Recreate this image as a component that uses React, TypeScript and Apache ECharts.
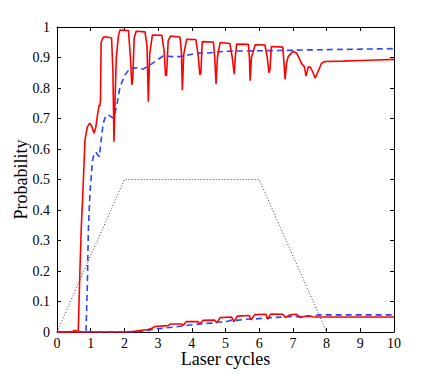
import React, { useEffect, useRef } from "react";
import * as echarts from "echarts";

const xTicks = [0, 1, 2, 3, 4, 5, 6, 7, 8, 9, 10];
const yTicks = [0, 0.1, 0.2, 0.3, 0.4, 0.5, 0.6, 0.7, 0.8, 0.9, 1];

const redHigh: [number, number][] = [
  [0, 0], [0.45, 0], [0.5, 0.005], [0.56, 0.005], [0.6, 0], [0.63, 0], [0.68, 0.2], [0.72, 0.34],
  [0.78, 0.49], [0.83, 0.63], [0.9, 0.672], [0.97, 0.685], [1.03, 0.675], [1.1, 0.652], [1.15, 0.67],
  [1.2, 0.71], [1.25, 0.745], [1.27, 0.74], [1.29, 0.76], [1.31, 0.95], [1.37, 0.966], [1.45, 0.968],
  [1.62, 0.964], [1.66, 0.85], [1.69, 0.624], [1.72, 0.75], [1.76, 0.9], [1.82, 0.97], [1.87, 0.99],
  [2.12, 0.988], [2.18, 0.9], [2.22, 0.81], [2.25, 0.83], [2.29, 0.965], [2.35, 0.986], [2.61, 0.984],
  [2.67, 0.94], [2.71, 0.755], [2.75, 0.91], [2.83, 0.974], [3.11, 0.973], [3.18, 0.92], [3.22, 0.84],
  [3.25, 0.842], [3.3, 0.955], [3.37, 0.97], [3.65, 0.967], [3.69, 0.92], [3.72, 0.793], [3.76, 0.91],
  [3.85, 0.96], [4.12, 0.959], [4.19, 0.905], [4.24, 0.843], [4.27, 0.85], [4.31, 0.952], [4.64, 0.951],
  [4.68, 0.9], [4.72, 0.813], [4.76, 0.9], [4.84, 0.949], [5.13, 0.946], [5.2, 0.9], [5.26, 0.845],
  [5.29, 0.9], [5.33, 0.944], [5.68, 0.943], [5.71, 0.9], [5.73, 0.824], [5.77, 0.9], [5.88, 0.942],
  [6.17, 0.941], [6.24, 0.9], [6.29, 0.85], [6.32, 0.86], [6.36, 0.936], [6.7, 0.934], [6.73, 0.89],
  [6.77, 0.828], [6.81, 0.88], [6.86, 0.903], [7.01, 0.921], [7.11, 0.914], [7.21, 0.892], [7.26, 0.88],
  [7.34, 0.87], [7.39, 0.839], [7.46, 0.87], [7.52, 0.868], [7.6, 0.85], [7.66, 0.832], [7.75, 0.855],
  [7.85, 0.881], [7.95, 0.887], [8.5, 0.888], [9, 0.89], [9.5, 0.892], [10, 0.894],
];

const blueHigh: [number, number][] = [
  [0, 0], [0.86, 0], [0.9, 0.15], [0.93, 0.334], [0.98, 0.46], [1.01, 0.5], [1.05, 0.56], [1.09, 0.58],
  [1.15, 0.59], [1.2, 0.582], [1.26, 0.575], [1.3, 0.62], [1.37, 0.684], [1.45, 0.71], [1.55, 0.71],
  [1.65, 0.702], [1.7, 0.708], [1.77, 0.74], [1.87, 0.804], [2.02, 0.843], [2.17, 0.865], [2.37, 0.866],
  [2.56, 0.862], [2.81, 0.879], [3.0, 0.894], [3.15, 0.905], [3.45, 0.903], [3.65, 0.903], [3.85, 0.907],
  [4.05, 0.912], [4.25, 0.915], [4.5, 0.915], [4.74, 0.918], [4.94, 0.92], [5.24, 0.921], [6.0, 0.922],
  [6.6, 0.923], [7.5, 0.925], [8.8, 0.927], [10, 0.929],
];

const redLow: [number, number][] = [
  [0, 0], [2.05, 0], [2.3, 0.002], [2.46, 0.005], [2.7, 0.008], [2.82, 0.012], [2.9, 0.018], [3.3, 0.021],
  [3.36, 0.026], [3.7, 0.026], [3.75, 0.022], [3.83, 0.034], [4.18, 0.034], [4.24, 0.026], [4.33, 0.038],
  [4.68, 0.039], [4.74, 0.03], [4.84, 0.047], [5.18, 0.049], [5.25, 0.034], [5.35, 0.052], [5.7, 0.054],
  [5.76, 0.04], [5.87, 0.057], [6.2, 0.058], [6.26, 0.042], [6.34, 0.059], [6.7, 0.058], [6.77, 0.048],
  [6.91, 0.056], [7.11, 0.058], [7.21, 0.048], [7.3, 0.05], [7.46, 0.053], [7.58, 0.05], [7.7, 0.049],
  [8, 0.049], [10, 0.049],
];

const blueLow: [number, number][] = [
  [0, 0], [2.4, 0], [2.7, 0.005], [2.9, 0.01], [3.1, 0.012], [3.45, 0.016], [3.75, 0.02], [3.95, 0.023],
  [4.15, 0.025], [4.35, 0.028], [4.6, 0.029], [4.73, 0.033], [5.0, 0.033], [5.13, 0.038], [5.33, 0.038],
  [5.6, 0.042], [5.9, 0.043], [6.2, 0.046], [6.52, 0.048], [6.82, 0.05], [7.1, 0.05], [7.4, 0.051],
  [7.6, 0.052], [7.75, 0.056], [10, 0.056],
];

const laserEnvelope: [number, number][] = [[0, 0], [2, 0.5], [6, 0.5], [8, 0]];

const SERIF = "'Liberation Serif', 'Times New Roman', serif";

export default function App() {
  const ref = useRef<HTMLDivElement>(null);
  useEffect(() => {
    document.body.style.margin = "0";
    if (!ref.current) return;
    const chart = echarts.init(ref.current, undefined, { renderer: "svg" });
    const axisCommon = {
      type: "value" as const,
      axisLine: { show: true, onZero: false, lineStyle: { color: "#000", width: 1 } },
      axisTick: { show: true, inside: true, length: 4, lineStyle: { color: "#000", width: 1 } },
      splitLine: { show: false },
    };
    const label = { color: "#000", fontFamily: SERIF, fontSize: 14 };
    chart.setOption({
      animation: false,
      backgroundColor: "#fff",
      grid: { left: 57, right: 42, top: 27, bottom: 42, containLabel: false, outerBoundsMode: "none" },
      xAxis: [
        {
          ...axisCommon,
          min: 0, max: 10, interval: 1,
          position: "bottom",
          axisLabel: { ...label, margin: 4, formatter: (v: number) => (xTicks.includes(v) ? String(v) : "") },
          name: "Laser cycles",
          nameLocation: "middle",
          nameGap: 18,
          nameMoveOverlap: false,
          nameTextStyle: { color: "#000", fontFamily: SERIF, fontSize: 18 },
        },
        {
          ...axisCommon,
          min: 0, max: 10, interval: 1,
          position: "top",
          axisLabel: { show: false },
        },
      ],
      yAxis: [
        {
          ...axisCommon,
          min: 0, max: 1, interval: 0.1,
          position: "left",
          axisLabel: {
            ...label, margin: 7,
            formatter: (v: number) => {
              const r = Math.round(v * 10) / 10;
              return yTicks.includes(r) ? String(r) : "";
            },
          },
          name: "Probability",
          nameLocation: "middle",
          nameGap: 27,
          nameMoveOverlap: false,
          nameTextStyle: { color: "#000", fontFamily: SERIF, fontSize: 18 },
        },
        {
          ...axisCommon,
          min: 0, max: 1, interval: 0.1,
          position: "right",
          axisLabel: { show: false },
        },
      ],
      series: [
        {
          type: "line", data: laserEnvelope, showSymbol: false, symbol: "none",
          lineStyle: { color: "#444", width: 1, type: [1, 2] },
          z: 1,
        },
        {
          type: "line", data: blueHigh, showSymbol: false, symbol: "none",
          lineStyle: { color: "#2447ff", width: 1.6, type: [6, 4] },
          z: 2,
        },
        {
          type: "line", data: blueLow, showSymbol: false, symbol: "none",
          lineStyle: { color: "#2447ff", width: 1.6, type: [6, 4] },
          z: 2,
        },
        {
          type: "line", data: redHigh, showSymbol: false, symbol: "none",
          lineStyle: { color: "#ff0000", width: 1.6 },
          z: 3,
        },
        {
          type: "line", data: redLow, showSymbol: false, symbol: "none",
          lineStyle: { color: "#ff0000", width: 1.6 },
          z: 3,
        },
      ],
    });
    return () => chart.dispose();
  }, []);
  return <div ref={ref} style={{ width: 436, height: 374 }} />;
}
